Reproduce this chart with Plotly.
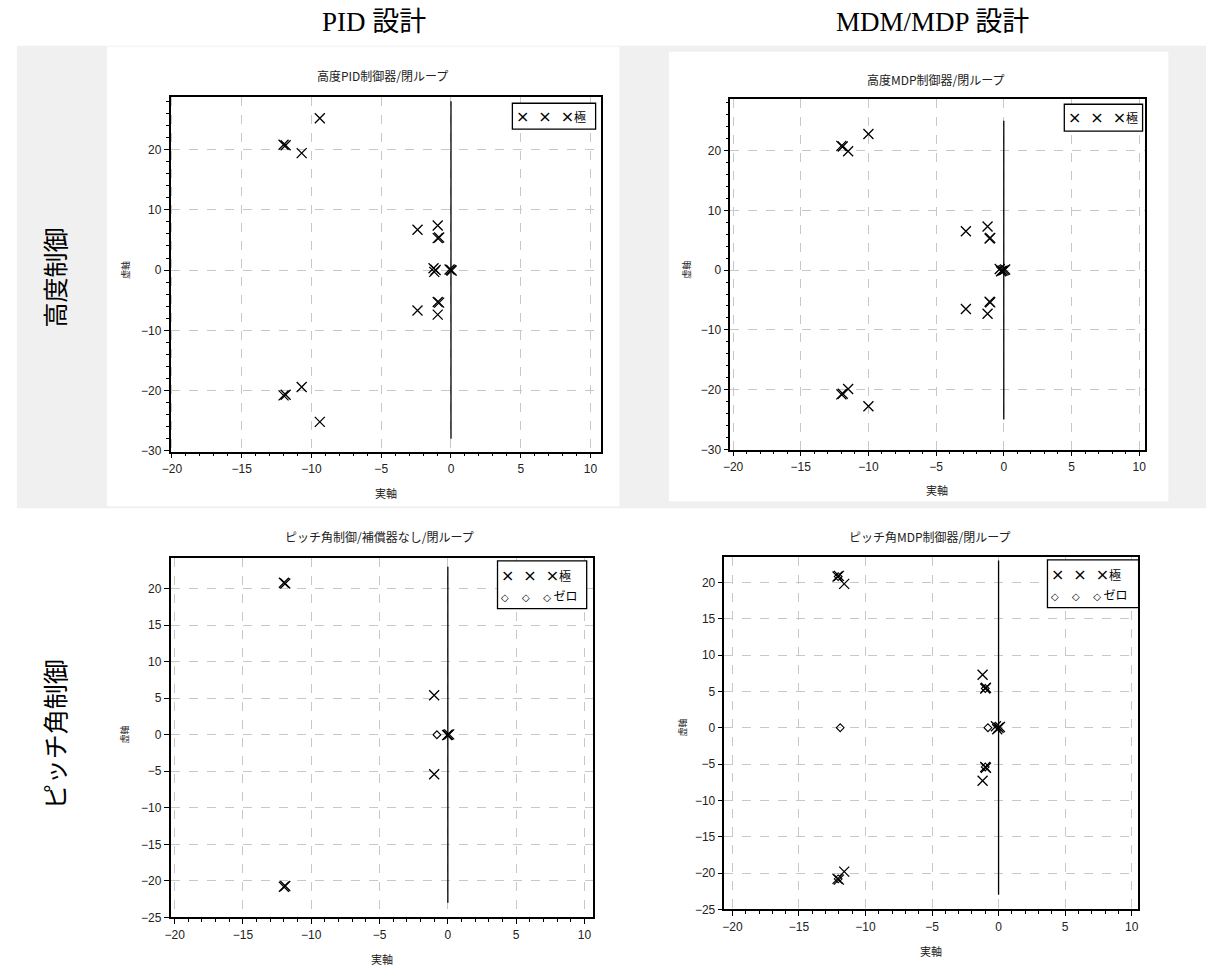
import plotly.graph_objects as go

W, H = 1208, 973

# ---------------- data ----------------
# Panel 1: 高度PID制御器/閉ループ (poles)
p1_pole_re = [-9.4, -9.4, -12.0, -11.85, -12.0, -11.85, -10.7, -10.7, -2.4, -2.4,
              -0.95, -0.95, -0.95, -0.85, -0.95, -0.85, -1.25, -1.2, -1.1, 0.0, -0.1, 0.05]
p1_pole_im = [25.2, -25.2, 20.8, 20.7, -20.8, -20.7, 19.4, -19.4, 6.7, -6.7,
              7.4, -7.4, 5.3, 5.4, -5.3, -5.4, 0.3, -0.3, 0.0, 0.0, 0.1, -0.1]
p1_vline_y = [-28, 28]

# Panel 2: 高度MDP制御器/閉ループ (poles)
p2_pole_re = [-10.0, -10.0, -12.0, -11.9, -12.0, -11.9, -11.5, -11.5, -2.8, -2.8,
              -1.2, -1.2, -1.0, -1.05, -1.0, -1.05, 0.0, -0.3, -0.2, 0.1, -0.1]
p2_pole_im = [22.8, -22.8, 20.8, 20.7, -20.8, -20.7, 19.9, -19.9, 6.5, -6.5,
              7.3, -7.3, 5.4, 5.3, -5.4, -5.3, 0.0, 0.2, -0.2, 0.1, -0.1]
p2_vline_y = [-25, 25]

# Panel 3: ピッチ角制御/補償器なし/閉ループ
p3_pole_re = [-12.0, -11.9, -12.0, -11.9, -1.0, -1.0, 0.0, 0.1, -0.05]
p3_pole_im = [20.8, 20.7, -20.8, -20.7, 5.4, -5.4, 0.0, 0.05, -0.05]
p3_zero_re = [-0.8]
p3_zero_im = [0.0]
p3_vline_y = [-23, 23]

# Panel 4: ピッチ角MDP制御器/閉ループ
p4_pole_re = [-12.1, -12.0, -12.1, -12.0, -11.6, -11.6, -1.2, -1.2,
              -1.0, -0.95, -1.0, -0.95, 0.0, -0.2, -0.1, 0.1]
p4_pole_im = [20.8, 20.9, -20.8, -20.9, 19.8, -19.8, 7.3, -7.3,
              5.4, 5.5, -5.4, -5.5, 0.0, 0.2, -0.2, 0.1]
p4_zero_re = [-12.05, -12.05, -1.0, -1.0, -11.9, -0.8]
p4_zero_im = [20.8, -20.8, 5.4, -5.4, 0.0, 0.0]
p4_vline_y = [-23, 23]

x_ticks = [-20, -15, -10, -5, 0, 5, 10]
y_ticks_top = [-30, -20, -10, 0, 10, 20]
y_ticks_bot = [-25, -20, -15, -10, -5, 0, 5, 10, 15, 20]

titles = ["高度PID制御器/閉ループ", "高度MDP制御器/閉ループ",
          "ピッチ角制御/補償器なし/閉ループ", "ピッチ角MDP制御器/閉ループ"]
col_headers = ["PID 設計", "MDM/MDP 設計"]
row_labels = ["高度制御", "ピッチ角制御"]
x_label = "実軸"
y_label = "虚軸"
leg_pole = "極"
leg_zero = "ゼロ"

# ---------------- layout helpers (window pixel -> paper) ----------------
def fx(p):
    return p / W

def fy(p):
    return 1 - p / H

CJK = "Noto Sans CJK JP"
SANS = "Liberation Sans, Arial, " + CJK
SERIF = "Liberation Serif, " + CJK

panels = [
    dict(dom=(163, 597, 98, 455), xr=[-20.1, 10.72], yr=[-30.15, 28.67], yt=y_ticks_top, ymin=2,
         title_xy=(377, 76), xl_xy=(380, 497), yl_xy=(117, 272), leg=(508, 592, 104, 130), zeros=False),
    dict(dom=(728, 1146, 100, 453), xr=[-20.2, 10.4], yr=[-30.07, 28.6], yt=y_ticks_top, ymin=2,
         title_xy=(936, 80), xl_xy=(937, 494), yl_xy=(683, 272), leg=(1065, 1144, 105, 132), zeros=False),
    dict(dom=(163, 589, 562, 924), xr=[-20.3, 10.6], yr=[-25.0, 24.2], yt=y_ticks_bot, ymin=None,
         title_xy=(374, 540), xl_xy=(376, 966), yl_xy=(117, 740), leg=(493, 583, 565, 613), zeros=True),
    dict(dom=(722, 1139, 561, 916), xr=[-20.6, 10.45], yr=[-25.0, 23.5], yt=y_ticks_bot, ymin=None,
         title_xy=(929, 540), xl_xy=(930, 958), yl_xy=(680, 733), leg=(1048, 1140, 564, 612), zeros=True),
]

poles = [(p1_pole_re, p1_pole_im), (p2_pole_re, p2_pole_im),
         (p3_pole_re, p3_pole_im), (p4_pole_re, p4_pole_im)]
zeros = [None, None, (p3_zero_re, p3_zero_im), (p4_zero_re, p4_zero_im)]
vlines = [p1_vline_y, p2_vline_y, p3_vline_y, p4_vline_y]

fig = go.Figure()
layout = dict(
    width=W, height=H,
    margin=dict(l=0, r=0, t=0, b=0),
    paper_bgcolor="white",
    plot_bgcolor="white",
    showlegend=False,
    font=dict(family=SANS, color="#222"),
)
annotations = []
shapes = [
    dict(type="rect", xref="paper", yref="paper", x0=fx(8), x1=1, y0=fy(512), y1=fy(46),
         fillcolor="#f0f0f0", line=dict(width=0), layer="below"),
    dict(type="rect", xref="paper", yref="paper", x0=fx(99), x1=fx(616), y0=fy(510), y1=fy(47),
         fillcolor="white", line=dict(width=0), layer="below"),
    dict(type="rect", xref="paper", yref="paper", x0=fx(666), x1=fx(1170), y0=fy(505), y1=fy(52),
         fillcolor="white", line=dict(width=0), layer="below"),
]

NB = "\u00a0"
X_MARK = "<span style='font-family:DejaVu Sans;font-size:16px'>×</span>"
D_MARK = "<span style='font-family:DejaVu Sans;font-size:10px;font-weight:bold'>◇</span>"
SP = "<span style='font-family:DejaVu Sans;font-size:14px'>" + NB * 2 + "</span>"
SPD = "<span style='font-family:DejaVu Sans;font-size:14px'>" + NB * 3 + "</span>"
pole_row = X_MARK + SP + X_MARK + SP + X_MARK + leg_pole
zero_row = D_MARK + SPD + D_MARK + SPD + D_MARK + NB + leg_zero


def ann(text, x, y, size, family=CJK, angle=0, color="#222"):
    annotations.append(dict(text=text, x=fx(x), y=fy(y), xref="paper", yref="paper",
                            xanchor="center", yanchor="middle", showarrow=False,
                            textangle=angle, font=dict(size=size, family=family, color=color)))


for i, p in enumerate(panels):
    n = "" if i == 0 else str(i + 1)
    xa, ya = "x" + n, "y" + n
    x0, x1, yt, yb = p["dom"]
    axis_common = dict(
        showline=True, linecolor="black", linewidth=1.5, mirror=True,
        ticks="outside", ticklen=5, tickwidth=1, tickcolor="black",
        showgrid=True, gridcolor="#c8c8c8", griddash="dash", gridwidth=1,
        zeroline=False, tickfont=dict(size=12, family=SANS, color="#222"),
    )
    layout["xaxis" + n] = dict(
        axis_common, domain=[fx(x0), fx(x1)], range=p["xr"], anchor=ya,
        tickvals=x_ticks, minor=dict(dtick=1, tick0=0, ticks="outside", ticklen=3,
                                     tickcolor="black", showgrid=False),
    )
    ydict = dict(axis_common, domain=[fy(yb), fy(yt)], range=p["yr"], anchor=xa,
                 tickvals=p["yt"])
    if p["ymin"]:
        ydict["minor"] = dict(dtick=p["ymin"], tick0=0, ticks="outside", ticklen=3,
                              tickcolor="black", showgrid=False)
    layout["yaxis" + n] = ydict

    fig.add_trace(go.Scatter(x=[0, 0], y=vlines[i], mode="lines",
                             line=dict(color="black", width=1.3),
                             xaxis=xa, yaxis=ya, hoverinfo="skip"))
    pr, pim = poles[i]
    fig.add_trace(go.Scatter(x=pr, y=pim, mode="markers",
                             marker=dict(symbol="x-thin", size=10, color="black",
                                         line=dict(color="black", width=1.3)),
                             xaxis=xa, yaxis=ya, name=leg_pole))
    if zeros[i] is not None:
        zr, zim = zeros[i]
        fig.add_trace(go.Scatter(x=zr, y=zim, mode="markers",
                                 marker=dict(symbol="diamond-open", size=6, color="black",
                                             line=dict(color="black", width=1.1)),
                                 xaxis=xa, yaxis=ya, name=leg_zero))

    tx, ty = p["title_xy"]
    ann(titles[i], tx, ty, 12)
    lx, ly = p["xl_xy"]
    ann(x_label, lx, ly, 11)
    yx, yy = p["yl_xy"]
    ann(y_label, yx, yy, 9, angle=-90)

    # legend box
    bl, br, bt, bb = p["leg"]
    shapes.append(dict(type="rect", xref="paper", yref="paper",
                       x0=fx(bl), x1=fx(br), y0=fy(bb), y1=fy(bt),
                       fillcolor="white", line=dict(color="black", width=1.3), layer="above"))
    if not p["zeros"]:
        rows = [(pole_row, (bt + bb) / 2)]
    else:
        rows = [(pole_row, bt + (bb - bt) * 0.3), (zero_row, bt + (bb - bt) * 0.72)]
    for txt, ry in rows:
        annotations.append(dict(text=txt, x=fx(bl + 2), y=fy(ry), xref="paper", yref="paper",
                                xanchor="left", yanchor="middle", align="left", showarrow=False,
                                font=dict(size=12, family=CJK, color="black")))

ann(col_headers[0], 368, 22, 27, family=SERIF, color="black")
ann(col_headers[1], 932, 22, 27, family=SERIF, color="black")
ann(row_labels[0], 45, 280, 25, angle=-90, color="black")
ann(row_labels[1], 45, 740, 25, angle=-90, color="black")

layout["annotations"] = annotations
layout["shapes"] = shapes
fig.update_layout(**layout)
fig.write_html("out.html", config={"displayModeBar": False},
               post_script="document.body.style.margin='0';document.body.style.overflow='hidden';")
